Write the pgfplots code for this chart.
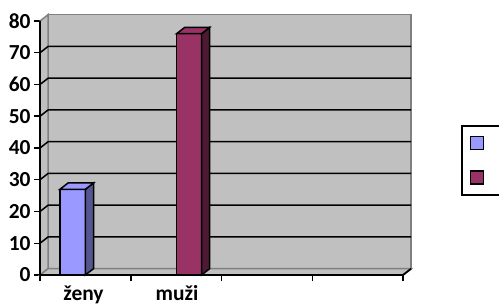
\documentclass[border=0pt]{standalone}
\usepackage{fontspec}
\setmainfont{Carlito}
\usepackage{pgfplots}
\pgfplotsset{compat=1.18}
\definecolor{wall}{HTML}{C0C0C0}
\definecolor{walledge}{HTML}{808080}
\definecolor{zfront}{HTML}{9999FF}
\definecolor{zside}{HTML}{55558F}
\definecolor{mfront}{HTML}{993366}
\definecolor{mside}{HTML}{4D1A33}
\begin{document}
\begin{tikzpicture}[font=\fontsize{21.5}{24}\selectfont\bfseries]
\begin{axis}[
  x=90.75bp, y=3.175bp,
  xmin=0, xmax=4.1, ymin=0, ymax=82,
  axis lines*=left, axis line style={draw=none},
  clip=false,
  ytick={0,10,...,80},
  xtick={0,1,2,3,4}, xticklabels={},
  extra x ticks={0.48,1.51}, extra x tick labels={ženy,muži},
  extra x tick style={major tick length=0bp, xticklabel style={anchor=base, yshift=-25bp}},
  tick align=outside,
  major tick length=6bp,
  every tick/.style={black, line width=1.5bp},
  /pgf/number format/assume math mode=true,
  yticklabel style={xshift=0bp},
  legend style={at={(axis cs:4.64,47.2)}, anchor=north west, draw=black, line width=1.5bp,
     fill=white, inner xsep=8bp, inner ysep=10bp, row sep=20bp,
     nodes={inner sep=0pt}},
]
\coordinate (O) at (axis cs:0,0);
% back wall, left wall, floor
\addplot[fill=wall, draw=walledge, line width=1.5bp, forget plot] coordinates {(0.09,2) (4.09,2) (4.09,82) (0.09,82)} -- cycle;
\addplot[fill=wall, draw=walledge, line width=1.5bp, forget plot] coordinates {(0,0) (0.09,2) (0.09,82) (0,80)} -- cycle;
\addplot[fill=wall, draw=walledge, line width=1.5bp, forget plot] coordinates {(0,0) (4,0) (4.09,2) (0.09,2)} -- cycle;
% gridlines
\addplot[black, line width=1.5bp, forget plot] coordinates {(0,10) (0.09,12) (4.09,12)};
\addplot[black, line width=1.5bp, forget plot] coordinates {(0,20) (0.09,22) (4.09,22)};
\addplot[black, line width=1.5bp, forget plot] coordinates {(0,30) (0.09,32) (4.09,32)};
\addplot[black, line width=1.5bp, forget plot] coordinates {(0,40) (0.09,42) (4.09,42)};
\addplot[black, line width=1.5bp, forget plot] coordinates {(0,50) (0.09,52) (4.09,52)};
\addplot[black, line width=1.5bp, forget plot] coordinates {(0,60) (0.09,62) (4.09,62)};
\addplot[black, line width=1.5bp, forget plot] coordinates {(0,70) (0.09,72) (4.09,72)};
% bars
\addplot[ybar, bar width=0.28, bar shift=0, fill=zfront, draw=black, line width=1.5bp,
  legend image code/.code={\draw[fill=zfront, draw=black, line width=1.5bp] (0bp,-6.5bp) rectangle (13bp,6.5bp);}]
  coordinates {(0.36,27)};
\addlegendentry{\hspace*{30bp}}
\addplot[ybar, bar width=0.275, bar shift=0, fill=mfront, draw=black, line width=1.5bp,
  legend image code/.code={\draw[fill=mfront, draw=black, line width=1.5bp] (0bp,-6.5bp) rectangle (13bp,6.5bp);}]
  coordinates {(1.643,76)};
\addlegendentry{\hspace*{30bp}}
% 3D faces
\addplot[fill=zside, draw=black, line width=1.5bp, forget plot] coordinates {(0.50,0) (0.50,27) (0.59,29) (0.59,2)} -- cycle;
\addplot[fill=zfront, draw=black, line width=1.5bp, forget plot] coordinates {(0.22,27) (0.50,27) (0.59,29) (0.31,29)} -- cycle;
\addplot[fill=mside, draw=black, line width=1.5bp, forget plot] coordinates {(1.78,0) (1.78,76) (1.87,78) (1.87,2)} -- cycle;
\addplot[fill=mfront, draw=black, line width=1.5bp, forget plot] coordinates {(1.505,76) (1.78,76) (1.87,78) (1.595,78)} -- cycle;
% front axes
\addplot[black, line width=1.8bp, forget plot] coordinates {(0,80) (0,0) (4,0) (4.09,2)};
\end{axis}
\pgfresetboundingbox
\useasboundingbox ([shift={(-40bp,275bp)}]O) rectangle ([shift={(459bp,-33bp)}]O);
\end{tikzpicture}
\end{document}
